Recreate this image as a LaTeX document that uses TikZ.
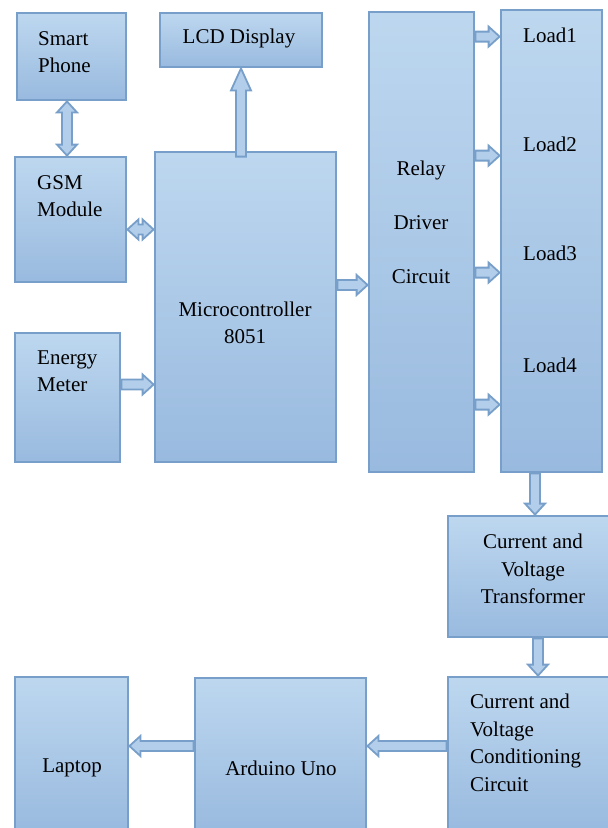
\documentclass[tikz,border=0pt]{standalone}
\usepackage{fontspec}
\setmainfont{Liberation Serif}
\usepackage{xcolor}
\usepackage{tikz}
\usetikzlibrary{calc}
\definecolor{boxedge}{HTML}{779FC9}
\definecolor{boxtop}{HTML}{BDD7EF}
\definecolor{boxbottom}{HTML}{99BADF}
\definecolor{arrowfill}{HTML}{B3CEEA}

\tikzset{
  unit/.style={draw=boxedge, line width=2.8pt, top color=boxtop, bottom color=boxbottom, inner sep=0pt},
  caption/.style={font=\fontsize{21}{27.5}\selectfont, align=center, inner sep=0pt},
  arrowbody/.style={draw=boxedge, line width=1.8pt, fill=arrowfill, line join=miter}
}

\newcommand{\onearrow}[3][11pt]{%
  \coordinate (hb) at ($(#3)!#1!(#2)$);
  \draw[arrowbody] ($(#2)!5pt!90:(#3)$) -- ($(hb)!5pt!90:(#3)$) -- ($(hb)!10pt!90:(#3)$) -- (#3) -- ($(hb)!10pt!-90:(#3)$) -- ($(hb)!5pt!-90:(#3)$) -- ($(#2)!5pt!-90:(#3)$) -- cycle;}
\newcommand{\twoarrow}[2]{%
  \coordinate (ha) at ($(#1)!11pt!(#2)$);
  \coordinate (hb) at ($(#2)!11pt!(#1)$);
  \draw[arrowbody] (#1) -- ($(ha)!10pt!90:(#2)$) -- ($(ha)!5pt!90:(#2)$) -- ($(hb)!5pt!90:(#2)$) -- ($(hb)!10pt!90:(#2)$) -- (#2) -- ($(hb)!10pt!-90:(#2)$) -- ($(hb)!5pt!-90:(#2)$) -- ($(ha)!5pt!-90:(#2)$) -- ($(ha)!10pt!-90:(#2)$) -- cycle;}

\begin{document}
\begin{tikzpicture}[x=1pt, y=-1pt]
\useasboundingbox (0,0) rectangle (608,828);
% blocks
\node[unit, minimum width=109pt, minimum height=87pt] (phone) at (71.5,56.5) {};
\node[unit, minimum width=162pt, minimum height=54pt] (lcd) at (241,40) {};
\node[unit, minimum width=111pt, minimum height=125pt] (gsm) at (70.5,219.5) {};
\node[unit, minimum width=105pt, minimum height=129pt] (meter) at (67.5,397.5) {};
\node[unit, minimum width=181pt, minimum height=310pt] (mcu) at (245.5,307) {};
\node[unit, minimum width=105pt, minimum height=460pt] (relay) at (421.5,242) {};
\node[unit, minimum width=101pt, minimum height=462pt] (load) at (551.5,241) {};
\node[unit, minimum width=161pt, minimum height=121pt] (xfmr) at (528.5,576.5) {};
\node[unit, minimum width=161pt, minimum height=154pt] (cond) at (528.5,754) {};
\node[unit, minimum width=113pt, minimum height=154pt] (laptop) at (71.5,754) {};
\node[unit, minimum width=171pt, minimum height=153pt] (uno) at (280.5,754.5) {};
% texts
\node[caption, anchor=west, align=left] (phonetxt) at (38,52) {Smart\\Phone};
\node[caption] (lcdtxt) at (239,38) {LCD Display};
\node[caption, anchor=west, align=left] (gsmtxt) at (37,196) {GSM\\Module};
\node[caption, anchor=west, align=left] (metertxt) at (37,371) {Energy\\Meter};
\node[caption] (mcutxt) at (245,323) {Microcontroller\\8051};
\node[caption] (relaytxt) at (421,222) {Relay\\[26.5pt]Driver\\[26.5pt]Circuit};
\node[caption] (load1) at (550,35) {Load1};
\node[caption] (load2) at (550,144) {Load2};
\node[caption] (load3) at (550,253) {Load3};
\node[caption] (load4) at (550,365) {Load4};
\node[caption] (xfmrtxt) at (533,569) {Current and\\Voltage\\Transformer};
\node[caption, anchor=west, align=left] (condtxt) at (470,743) {Current and\\Voltage\\Conditioning\\Circuit};
\node[caption] (laptoptxt) at (72,768) {Laptop};
\node[caption] (unotxt) at (281,768) {Arduino Uno};
% arrows
\coordinate (p1) at ([xshift=-4.5pt]phone.south);
\coordinate (p2) at (p1 |- gsm.north);
\twoarrow{p1}{p2}
\coordinate (m1) at ([yshift=-6pt]mcu.north);
\coordinate (m2) at (m1 -| lcd.south);
\onearrow[22pt]{m2}{lcd.south}
\coordinate (g1) at ([yshift=-10pt]gsm.east);
\coordinate (g2) at (g1 -| mcu.west);
\twoarrow{g1}{g2}
\coordinate (e1) at ([yshift=13pt]meter.east);
\coordinate (e2) at (e1 -| mcu.west);
\onearrow{e1}{e2}
\coordinate (c1) at ([yshift=22pt]mcu.east);
\coordinate (c2) at (c1 -| relay.west);
\onearrow{c1}{c2}
\foreach \d [count=\i] in {26,145,262,394} {
  \coordinate (r\i) at ([yshift=-\d pt]relay.north east);
  \coordinate (l\i) at (r\i -| load.west);
  \onearrow{r\i}{l\i}
}
\coordinate (t1) at ([xshift=-16.5pt]load.south);
\coordinate (t2) at (t1 |- xfmr.north);
\onearrow{t1}{t2}
\coordinate (s1) at ([xshift=9.5pt]xfmr.south);
\coordinate (s2) at (s1 |- cond.north);
\onearrow{s1}{s2}
\coordinate (a1) at ([yshift=8pt]cond.west);
\coordinate (a2) at (a1 -| uno.east);
\onearrow{a1}{a2}
\coordinate (u1) at ([yshift=8.5pt]uno.west);
\coordinate (u2) at (u1 -| laptop.east);
\onearrow{u1}{u2}
\end{tikzpicture}
\end{document}
